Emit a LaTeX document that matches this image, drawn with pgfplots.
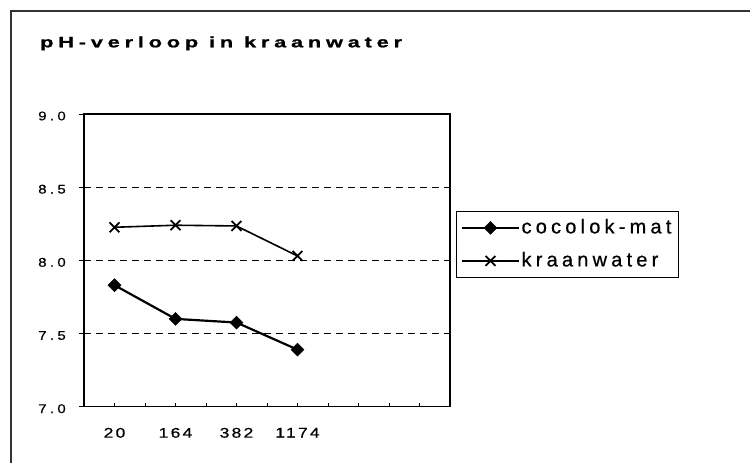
\documentclass[border=0pt]{standalone}
\usepackage{fontspec}
\setmainfont{Liberation Sans}
\newfontfamily\titlefont{Liberation Sans Bold}[LetterSpace=32, FakeStretch=1.45, FakeBold=1.2]
\newfontfamily\ytickfont{Liberation Sans}[LetterSpace=26, FakeStretch=1.2, FakeBold=0.6]
\newfontfamily\xtickfont{Liberation Sans}[LetterSpace=16, FakeStretch=1.25, FakeBold=0.6]
\newfontfamily\legfont{Liberation Sans}[LetterSpace=21, FakeBold=0.6]
\usepackage{pgfplots}
\pgfplotsset{compat=1.18}
\begin{document}
\begin{tikzpicture}[x=1pt,y=1pt]
\useasboundingbox (0,0) rectangle (750,463);
\draw[line width=1.2pt, black!80] (11,-20) -- (11,452) -- (780,452);
\node[anchor=base west, inner sep=0pt, font=\titlefont\fontsize{15}{18}\selectfont] at (40,415.7) {pH-verloop in kraanwater};
\begin{axis}[
  at={(84pt,56.3pt)}, anchor=south west,
  width=366pt, height=292.7pt, scale only axis,
  xmin=0.5, xmax=6.5, ymin=7, ymax=9,
  xtick={1,1.5,...,6},
  xticklabels={20,,164,,382,,1174,,,,},
  ytick={7,7.5,...,9},
  xtick pos=bottom, ytick pos=left,
  tick align=inside,
  major tick length=4pt,
  ytick style={xshift=-5pt, line width=0.8pt, black},
  xtick style={line width=0.8pt, black},
  ymajorgrids=true,
  major grid style={dash pattern=on 7pt off 5pt, line width=0.9pt, black},
  axis line style={line width=1.6pt},
  /pgf/number format/assume math mode=true,
  yticklabel={\pgfmathprintnumber[fixed,fixed zerofill,precision=1]{\tick}},
  yticklabel style={font=\ytickfont\fontsize{12.6}{15}\selectfont, anchor=east, inner sep=0pt, xshift=-18pt, yshift=-2pt},
  xticklabel style={font=\xtickfont\fontsize{14}{16}\selectfont, anchor=north, inner sep=0pt, yshift=-21pt},
  legend style={at={(1.0164,0.6686)}, anchor=north west,
    font=\legfont\fontsize{20}{24}\selectfont,
    draw=black, line width=0.8pt, inner xsep=5pt, inner ysep=0pt, row sep=0pt,
    nodes={text height=15pt, text depth=4pt, inner ysep=7pt},
    /tikz/every even column/.append style={column sep=7pt}},
  legend cell align=left,
  legend image code/.code={\draw[#1, mark repeat=2, mark phase=2] plot coordinates {(0pt,0pt) (28pt,0pt) (56pt,0pt)};},
]
\addplot[black, line width=2.2pt, mark=square*, mark size=4.6pt, mark options={solid, rotate=45, line width=0.4pt}]
  coordinates {(1,7.83) (2,7.60) (3,7.575) (4,7.39)};
\addlegendentry{cocolok-mat}
\addplot[black, line width=1.6pt, mark=x, mark size=7pt, mark options={solid, line width=1.8pt}]
  coordinates {(1,8.226) (2,8.24) (3,8.235) (4,8.03)};
\addlegendentry{kraanwater}
\end{axis}
\end{tikzpicture}
\end{document}
